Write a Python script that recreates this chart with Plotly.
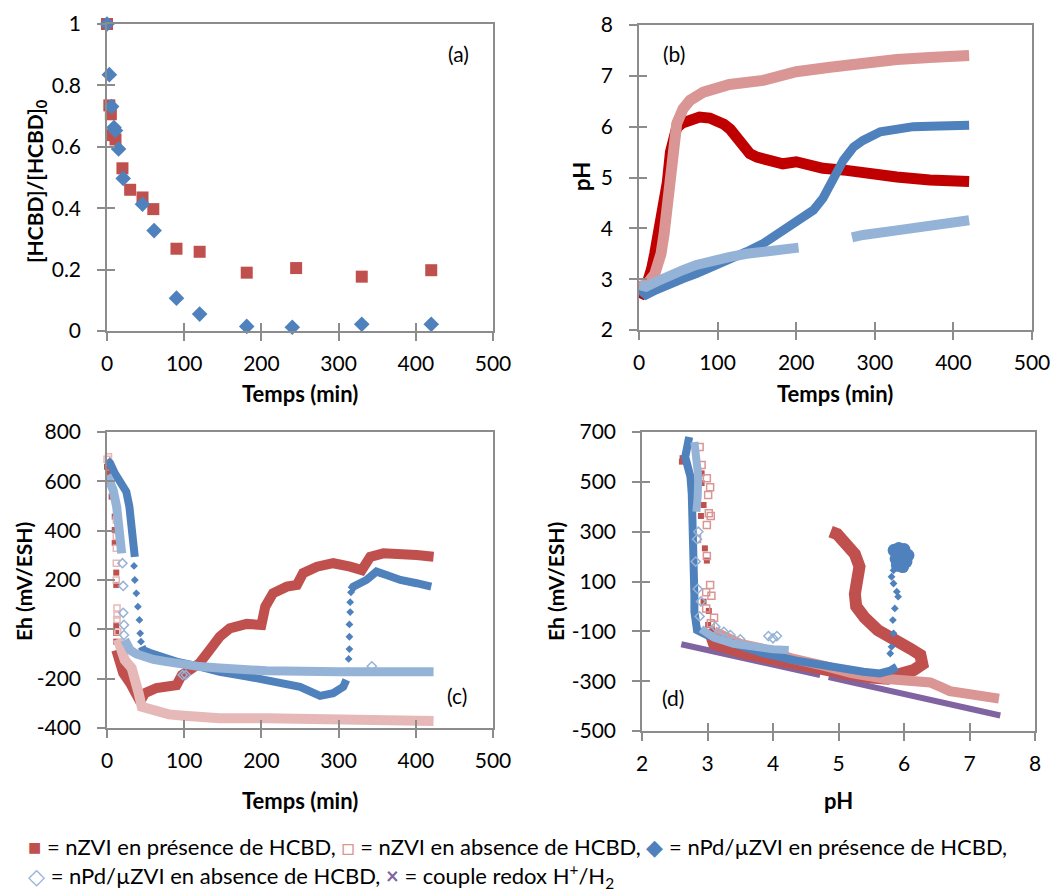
import plotly.graph_objects as go

# page size and the default 8px body margin of the HTML page
PAGE_W, PAGE_H = 1060, 894
OFF = 8
W, H = PAGE_W - OFF, PAGE_H - OFF
FONT = "Lato"

RED = "#C0504D"
RED_DARK = "#C00000"
PINK = "#E6B9B8"
PINK_D = "#D99694"
BLUE = "#4F81BD"
LBLUE = "#95B3D7"
PURPLE = "#8064A2"
AXIS = "#8C8C8C"

# ---------------- Panel (a): [HCBD]/[HCBD]0 vs time ----------------
a_t_nzvi = [0, 3, 5, 7, 11, 20, 30, 46, 60, 90, 120, 181, 245, 330, 420]
a_c_nzvi = [1.0, 0.735, 0.706, 0.638, 0.624, 0.53, 0.46, 0.435, 0.397, 0.268, 0.258, 0.19, 0.205, 0.177, 0.198]
a_t_npd = [0, 3, 6, 9, 11, 15, 21, 46, 61, 90, 120, 181, 240, 330, 420]
a_c_npd = [1.0, 0.835, 0.731, 0.663, 0.653, 0.593, 0.497, 0.413, 0.327, 0.107, 0.055, 0.015, 0.012, 0.022, 0.022]

# ---------------- Panel (b): pH vs time ----------------
b_t_nzvi = [0, 4, 8, 12, 16, 20, 24, 28, 32, 36, 40, 44, 48, 55, 65, 77, 90, 100, 108, 116, 124, 132,
            141, 150, 158, 170, 183, 200, 217, 234, 264, 285, 328, 370, 420]
b_ph_nzvi = [2.75, 2.72, 2.8, 2.95, 3.2, 3.5, 3.8, 4.1, 4.4, 4.9, 5.5, 5.85, 5.98, 6.07, 6.13, 6.19, 6.17,
             6.12, 6.05, 5.95, 5.8, 5.62, 5.47, 5.4, 5.37, 5.32, 5.27, 5.31, 5.24, 5.18, 5.14, 5.08, 5.01, 4.95, 4.92]
b_t_nzvi0 = [0, 10, 20, 28, 32, 35, 41, 44, 48, 56, 65, 82, 98, 115, 158, 200, 243, 285, 328, 370, 420]
b_ph_nzvi0 = [2.85, 2.9, 3.1, 3.5, 3.9, 4.3, 5.2, 5.73, 6.06, 6.35, 6.52, 6.68, 6.77, 6.83, 6.91, 7.08,
              7.17, 7.27, 7.32, 7.36, 7.4]
b_t_npd = [1, 9, 22, 39, 56, 73, 94, 116, 137, 158, 179, 200, 222, 234, 247, 260, 273, 285, 307, 328, 349, 370, 420]
b_ph_npd = [2.79, 2.69, 2.79, 2.88, 3.01, 3.11, 3.24, 3.38, 3.54, 3.7, 3.9, 4.1, 4.36, 4.59, 4.95, 5.34, 5.6,
            5.73, 5.9, 5.96, 6.0, 6.01, 6.03]
b_t_npd0 = [1, 9, 22, 39, 56, 73, 94, 116, 137, 158, 179, 203, None, 271, 285, 328, 370, 420]
b_ph_npd0 = [2.88, 2.85, 2.95, 3.08, 3.18, 3.28, 3.38, 3.44, 3.5, 3.54, 3.58, 3.62, None, 3.82, 3.87, 3.96, 4.06, 4.16]

# ---------------- Panel (c): Eh vs time ----------------
c_t_nzvi_pts = [0, 2, 6, 10, 10, 10, 12, 12, 12, 12, 12]
c_eh_nzvi_pts = [659, 633, 538, 457, 403, 350, 230, 180, 17, -15, -50]
c_t_nzvi = [12, 15, 21, 30, 38, 43, 49, 64, 90, 97, 107, 120, 133, 146, 159, 181, 200, 203, 205, 215, 233,
            246, 254, 272, 293, 315, 330, 341, 358, 401, 423]
c_eh_nzvi = [-84, -124, -177, -218, -259, -293, -259, -238, -226, -185, -165, -137, -84, -30, 4, 22, 18, 50,
             92, 146, 173, 180, 228, 254, 268, 254, 240, 294, 308, 301, 294]
c_t_nzvi0_pts = [0, 2, 12, 12, 12, 12, 12, 13, 13, 13, 14]
c_eh_nzvi0_pts = [690, 700, 443, 376, 329, 268, 200, 86, 58, 40, -10]
c_t_nzvi0 = [14, 17, 23, 32, 37, 41, 45, 55, 64, 80, 100, 146, 207, 270, 336, 423]
c_eh_nzvi0 = [-40, -70, -124, -157, -200, -259, -314, -325, -334, -345, -350, -360, -360, -365, -367, -372]
c_t_npd = [0, 4, 10, 17, 21, 25, 29, 32, 34, 36, None, 45, 47, 55, 64, 90, 120, 146, 180, 207, 250, 276,
           293, 306, 310, None, 316, 319, 336, 349, 362, 380, 401, 420]
c_eh_npd = [685, 674, 633, 593, 573, 558, 497, 416, 350, 294, None, -70, -84, -95, -104, -131, -151, -172,
            -190, -205, -233, -270, -259, -233, -205, None, 160, 173, 200, 234, 220, 200, 187, 173]
c_t_npd_pts = [35, 36, 38, 40, 42, 43, 44, 313, 313, 314, 314, 314, 315, 315, 316]
c_eh_npd_pts = [257, 200, 146, 92, 38, -16, -50, -170, -120, -80, -30, 20, 70, 110, 150]
c_t_npd0 = [0, 4, 8, 12.5, 15, 17, 19, None, 23, 26, 30, 38, 47, 60, 77, 100, 120, 146, 207, 300, 423]
c_eh_npd0 = [625, 600, 565, 497, 430, 362, 308, None, -43, -70, -84, -100, -111, -122, -131, -143, -151,
             -157, -168, -172, -172]
c_t_npd0_pts = [20, 21, 21, 22, 22, 98, 102, 343]
c_eh_npd0_pts = [268, 176, 67, 18, -23, -185, -185, -150]

# ---------------- Panel (d): Eh vs pH ----------------
d_ph_nzvi_pts = [2.61, 2.62, 2.91, 2.91, 2.94, 2.9, 2.96, 2.99, 2.94, 3.02, 3.01]
d_eh_nzvi_pts = [581, 595, 534, 495, 407, 363, 233, 184, 19, -18, -74]
d_ph_nzvi = [3.02, 3.1, 3.6, 4.2, 4.7, 5.1, 5.5, 5.75, 5.95, 6.15, 6.28, 6.25, 6.1, 5.95, 5.8, 5.6, 5.4,
             5.27, 5.25, 5.3, 5.32, 5.25, 5.12, 4.98, 4.88]
d_eh_nzvi = [-90, -150, -190, -225, -255, -270, -285, -290, -270, -255, -232, -195, -170, -150, -135, -95,
             -45, 0, 50, 100, 160, 210, 255, 290, 300]
d_ph_nzvi0_pts = [2.88, 2.91, 2.99, 3.04, 3.01, 3.02, 3.05, 2.99, 2.84, 2.99, 3.04, 2.98, 3.06, 2.98, 3.1, 3.05]
d_eh_nzvi0_pts = [640, 568, 514, 478, 447, 374, 363, 327, 271, 202, 86, 57, 43, -8, -45, -68]
d_ph_nzvi0 = [3.1, 3.5, 3.85, 4.3, 4.8, 5.2, 5.7, 6.0, 6.4, 6.55, 6.7, 7.0, 7.25, 7.45]
d_eh_nzvi0 = [-100, -150, -170, -210, -240, -268, -290, -297, -305, -322, -340, -352, -362, -370]
d_ph_npd = [2.72, 2.7, 2.66, 2.7, 2.74, 2.76, 2.77, 2.79, 2.78, 2.79, 2.82, 2.8, 2.8, 2.82, 2.84, 2.99,
            3.35, 3.86, 4.36, 4.87, 5.38, 5.63, 5.79, 5.89]
d_eh_npd = [680, 640, 600, 560, 520, 450, 380, 320, 250, 180, 110, 40, -20, -80, -95, -115, -149, -189,
            -218, -242, -262, -269, -258, -242]
d_ph_npd_pts = [5.79, 5.81, 5.84, 5.83, 5.86, 5.91, 5.89, 5.84, 5.81, 5.84]
d_eh_npd_pts = [-189, -162, -108, -55, -8, 39, 59, 92, 119, 145]
d_ph_npd_blob = [5.85, 5.92, 6.0, 6.06, 5.88, 5.95, 6.03, 5.9, 5.98]
d_eh_npd_blob = [225, 232, 228, 205, 190, 195, 180, 165, 160]
d_ph_npd0 = [2.8, 2.83, 2.86, 2.85, 2.83, None, 2.9, 3.1, 3.4, 3.75, 4.0, 4.24]
d_eh_npd0 = [660, 600, 520, 440, 380, None, -90, -125, -150, -165, -172, -175]
d_ph_npd0_pts = [2.86, 2.84, 2.82, 2.85, 2.9, 2.88, 3.12, 3.25, 3.35, 3.5, 3.93, 4.0, 4.06]
d_eh_npd0_pts = [300, 270, 180, 70, 20, -40, -82, -102, -115, -132, -119, -128, -119]
d_ph_h2 = [2.6, 3.0, 3.5, 4.0, 4.4, 4.72, None, 4.85, 5.3, 5.8, 6.3, 6.8, 7.2, 7.47]
d_eh_h2 = [-152, -175, -205, -234, -258, -276, None, -284, -310, -340, -370, -399, -422, -438]

# ---------------- Axis ticks ----------------
a_yticks = [0, 0.2, 0.4, 0.6, 0.8, 1]
time_ticks = [0, 100, 200, 300, 400, 500]
b_yticks = [2, 3, 4, 5, 6, 7, 8]
c_yticks = [-400, -200, 0, 200, 400, 600, 800]
d_yticks = [-500, -300, -100, 100, 300, 500, 700]
d_xticks = [2, 3, 4, 5, 6, 7, 8]


def lab(v):
    return str(v)


fig = go.Figure()


def band(x, y, color, width, ax):
    fig.add_trace(go.Scatter(x=x, y=y, mode="lines", line=dict(color=color, width=width),
                             xaxis="x" + ax, yaxis="y" + ax, showlegend=False, hoverinfo="skip",
                             cliponaxis=False, connectgaps=False))


def pts(x, y, color, symbol, size, ax, lw=0):
    fig.add_trace(go.Scatter(x=x, y=y, mode="markers",
                             marker=dict(color=color, symbol=symbol, size=size,
                                         line=dict(color=color, width=lw)),
                             xaxis="x" + ax, yaxis="y" + ax, showlegend=False, hoverinfo="skip",
                             cliponaxis=False))


# Panel (a)
pts(a_t_nzvi, a_c_nzvi, RED, "square", 12, "")
pts(a_t_npd, a_c_npd, BLUE, "diamond", 12, "")

# Panel (b)
band(b_t_nzvi, b_ph_nzvi, RED_DARK, 11, "2")
band(b_t_nzvi0, b_ph_nzvi0, PINK_D, 11, "2")
band(b_t_npd, b_ph_npd, BLUE, 9, "2")
band(b_t_npd0, b_ph_npd0, LBLUE, 10, "2")

# Panel (c)
band(c_t_nzvi, c_eh_nzvi, RED, 10, "3")
pts(c_t_nzvi_pts, c_eh_nzvi_pts, RED, "square", 6, "3")
band(c_t_nzvi0, c_eh_nzvi0, PINK, 10, "3")
pts(c_t_nzvi0_pts, c_eh_nzvi0_pts, PINK, "square-open", 6, "3", 1.5)
band(c_t_npd, c_eh_npd, BLUE, 8, "3")
pts(c_t_npd_pts, c_eh_npd_pts, BLUE, "diamond", 6, "3")
band(c_t_npd0, c_eh_npd0, LBLUE, 9, "3")
pts(c_t_npd0_pts, c_eh_npd0_pts, LBLUE, "diamond-open", 7, "3", 1.5)

# Panel (d)
band(d_ph_h2, d_eh_h2, PURPLE, 6, "4")
band(d_ph_nzvi, d_eh_nzvi, RED, 12, "4")
pts(d_ph_nzvi_pts, d_eh_nzvi_pts, RED, "square", 6, "4")
band(d_ph_nzvi0, d_eh_nzvi0, PINK_D, 10, "4")
pts(d_ph_nzvi0_pts, d_eh_nzvi0_pts, PINK_D, "square-open", 7, "4", 1.5)
band(d_ph_npd, d_eh_npd, BLUE, 8, "4")
pts(d_ph_npd_pts, d_eh_npd_pts, BLUE, "diamond", 6, "4")
pts(d_ph_npd_blob, d_eh_npd_blob, BLUE, "circle", 13, "4")
band(d_ph_npd0, d_eh_npd0, LBLUE, 8, "4")
pts(d_ph_npd0_pts, d_eh_npd0_pts, LBLUE, "diamond-open", 7, "4", 1.5)

# dummy traces for overlay axes (inner half of the crossing ticks)
for k in range(5, 9):
    fig.add_trace(go.Scatter(x=[None], y=[None], xaxis="x%d" % k, yaxis="y%d" % k,
                             showlegend=False, hoverinfo="skip"))


def px(x):
    return (x - OFF) / W


def py(y):
    return 1 - (y - OFF) / H


panels = {
    "": dict(xd=[px(107), px(493)], yd=[py(331), py(24)], xr=[0, 500], yr=[0, 1],
             xt=time_ticks, yt=a_yticks),
    "2": dict(xd=[px(639), px(1032)], yd=[py(330), py(25)], xr=[0, 500], yr=[2, 8],
              xt=time_ticks, yt=b_yticks),
    "3": dict(xd=[px(107), px(493)], yd=[py(728), py(432)], xr=[0, 500], yr=[-400, 800],
              xt=time_ticks, yt=c_yticks),
    "4": dict(xd=[px(642), px(1035)], yd=[py(731), py(432)], xr=[2, 8], yr=[-500, 700],
              xt=d_xticks, yt=d_yticks),
}

tickfont = dict(family=FONT, size=21, color="#000000")
layout_axes = {}
for i, (s, p) in enumerate(panels.items()):
    xn = "xaxis" + s
    yn = "yaxis" + s
    xa = "x" + s
    ya = "y" + s
    common = dict(showgrid=False, zeroline=False, showline=True, linecolor=AXIS, linewidth=1.5,
                  mirror=True, ticks="outside", ticklen=8, tickwidth=1.5, tickcolor=AXIS,
                  tickfont=tickfont, automargin=False)
    layout_axes[xn] = dict(domain=p["xd"], range=p["xr"], anchor=ya, tickvals=p["xt"],
                           ticktext=[lab(v) for v in p["xt"]], ticklabelstandoff=5, **common)
    layout_axes[yn] = dict(domain=p["yd"], range=p["yr"], anchor=xa, tickvals=p["yt"],
                           ticktext=[lab(v) for v in p["yt"]], ticklabelstandoff=12, **common)
    k = 5 + i
    inner = dict(showgrid=False, zeroline=False, showline=False, ticks="inside", ticklen=8,
                 tickwidth=1.5, tickcolor=AXIS, showticklabels=False, automargin=False)
    layout_axes["xaxis%d" % k] = dict(domain=p["xd"], range=p["xr"], anchor=ya, overlaying=xa,
                                      tickvals=p["xt"], side="bottom", **inner)
    layout_axes["yaxis%d" % k] = dict(domain=p["yd"], range=p["yr"], anchor=xa, overlaying=ya,
                                      tickvals=p["yt"], side="left", **inner)

annots = []


def txt(x, y, text, size=21, bold=False, angle=0, xanchor="center"):
    annots.append(dict(x=px(x), y=py(y), xref="paper", yref="paper", text=("<b>%s</b>" % text) if bold else text,
                       showarrow=False, textangle=angle, xanchor=xanchor, yanchor="middle",
                       font=dict(family=FONT, size=size, color="#000000")))


# axis titles
txt(300, 393, "Temps (min)", 22, True)
txt(835, 393, "Temps (min)", 22, True)
txt(300, 800, "Temps (min)", 22, True)
txt(838, 800, "pH", 22, True)
txt(36, 181, "[HCBD]/[HCBD]<sub>0</sub>", 21, True, -90)
txt(582, 177, "pH", 22, True, -90)
txt(23, 582, "Eh (mV/ESH)", 21, True, -90)
txt(555, 582, "Eh (mV/ESH)", 21, True, -90)
# panel labels
txt(458, 53, "(a)", 21)
txt(674, 53, "(b)", 21)
txt(457, 695, "(c)", 21)
txt(673, 697, "(d)", 21)

line1 = ('<span style="color:%s">■</span> = nZVI en présence de HCBD, '
         '<span style="color:%s">□</span> = nZVI en absence de HCBD, '
         '<span style="color:%s">◆</span> = nPd/µZVI en présence de HCBD,') % (RED, PINK_D, BLUE)
line2 = ('<span style="color:%s">◇</span> = nPd/µZVI en absence de HCBD, '
         '<span style="color:%s"><b>×</b></span> = couple redox H<sup>+</sup>/H<sub>2</sub>') % (LBLUE, PURPLE)
txt(26, 846, line1, 22, False, 0, "left")
txt(26, 876, line2, 22, False, 0, "left")

fig.update_layout(width=W, height=H, margin=dict(l=0, r=0, t=0, b=0, autoexpand=False),
                  paper_bgcolor="white", plot_bgcolor="white", showlegend=False,
                  annotations=annots, font=dict(family=FONT), **layout_axes)

fig.write_html("out.html")
